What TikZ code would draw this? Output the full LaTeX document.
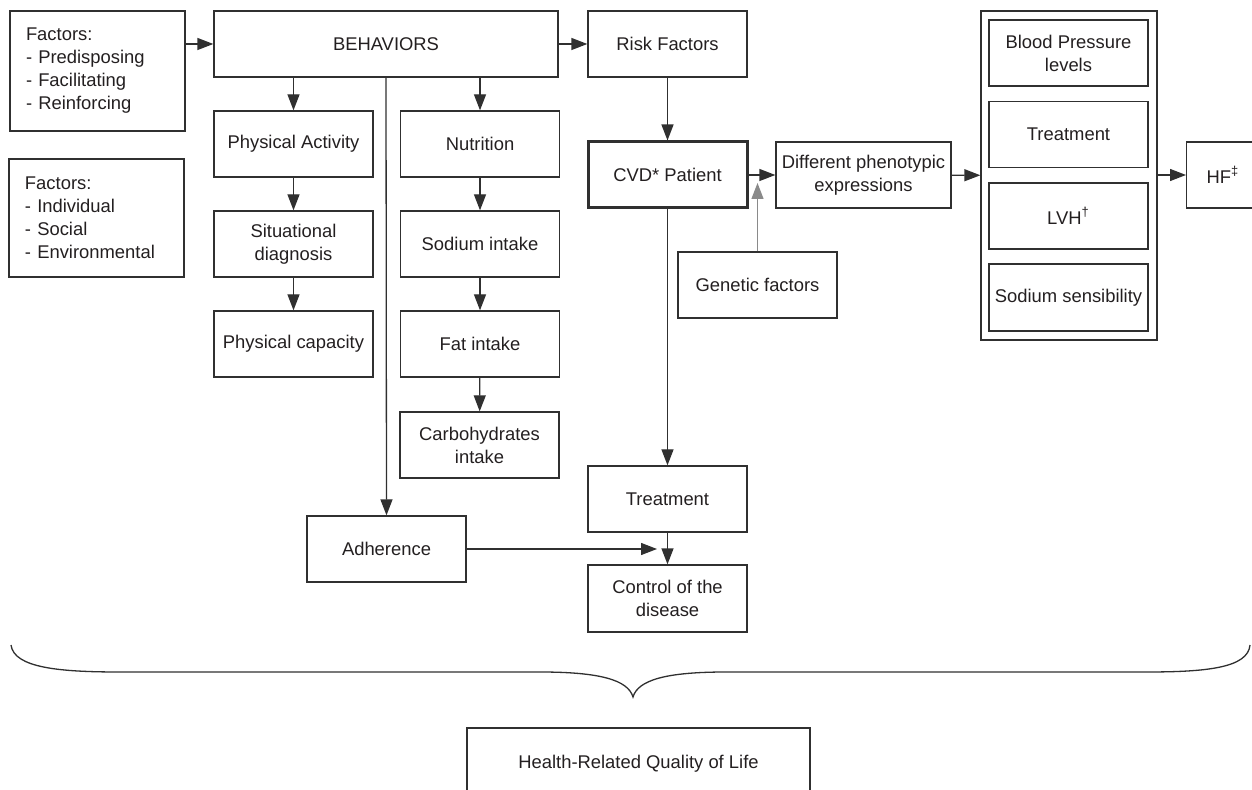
\documentclass[tikz,border=0pt]{standalone}
\usepackage{fontspec}
\setmainfont{Liberation Sans}
\usetikzlibrary{arrows.meta,positioning}
\definecolor{ln}{HTML}{303030}
\definecolor{tx}{HTML}{231F20}
\definecolor{gl}{HTML}{8A8A8A}
\tikzset{
  box/.style={draw=ln, line width=0.65pt, rectangle, align=center, inner sep=1pt,
    minimum width=79.5pt, minimum height=33pt, text=tx,
    font=\fontsize{9.2}{11.5}\selectfont},
  lbox/.style={draw=ln, line width=0.65pt, rectangle, align=left, inner xsep=8pt, inner ysep=1pt,
    text width=71.5pt, minimum height=#1, text=tx,
    font=\fontsize{9.2}{11.5}\selectfont},
  arr/.style={draw=ln, line width=0.65pt, -{Triangle[length=8pt,width=6pt]}},
  ln/.style={draw=ln, line width=0.65pt}
}
\begin{document}
\begin{tikzpicture}[x=0.5pt,y=-0.5pt]
\useasboundingbox (0,0) rectangle (1252,790);
\clip (0,0) rectangle (1252,790);
% left factor boxes
\node[lbox=60pt] (f1) at (97.5,71) {Factors:\\- Predisposing\\- Facilitating\\- Reinforcing};
\node[lbox=59pt] (f2) at (96.5,218) {Factors:\\- Individual\\- Social\\- Environmental};
% behaviors
\node[box, minimum width=172pt] (beh) at (386,44) {BEHAVIORS};
\node[box] (rf) at (667.5,44) {Risk Factors};
% physical activity column
\node[box] (pa) at (293.5,144) {Physical Activity};
\node[box] (sd) at (293.5,244) {Situational\\diagnosis};
\node[box] (pc) at (293.5,344) {Physical capacity};
% nutrition column
\node[box] (nu) at (480,144) {Nutrition};
\node[box] (si) at (480,244) {Sodium intake};
\node[box] (fi) at (480,344) {Fat intake};
\node[box] (ci) at (479.5,445) {Carbohydrates\\intake};
% CVD
\node[box, line width=1.5pt] (cvd) at (667.5,175) {CVD* Patient};
\node[box, minimum width=87.5pt] (ph) at (863.5,175) {Different phenotypic\\expressions};
\node[box] (gen) at (757.5,285) {Genetic factors};
% right group
\node[box, minimum width=88pt, minimum height=164.5pt] (outer) at (1069,175.5) {};
\node[box] (bp) at (1068.5,53) {Blood Pressure\\levels};
\node[box] (tr2) at (1068.5,134.5) {Treatment};
\node[box] (lvh) at (1068.5,216) {LVH\textsuperscript{†}};
\node[box, minimum height=33.5pt] (ss) at (1068.5,297.5) {Sodium sensibility};
\node[box, anchor=west, align=left, minimum width=0pt, text width=40pt, inner xsep=10pt] (hf) at (1186,175) {HF\textsuperscript{‡}};
% lower
\node[box] (tr) at (667.5,499) {Treatment};
\node[box] (ad) at (386.5,549) {Adherence};
\node[box, minimum height=33.5pt] (cd) at (667.5,598.5) {Control of the\\disease};
\node[box, minimum width=171.5pt, minimum height=36pt] (hq) at (638.5,764) {Health-Related Quality of Life};
% coordinates for free arrow ends
\coordinate (gt) at (757.5,183);
\coordinate (adt) at (657,549);
% connectors
\draw[arr] (f1.east |- beh.west) -- (beh.west);
\draw[arr] (beh.east) -- (rf.west);
\draw[arr] (pa.north |- beh.south) -- (pa.north);
\draw[arr] (nu.north |- beh.south) -- (nu.north);
\draw[arr] (pa) -- (sd);
\draw[arr] (sd) -- (pc);
\draw[arr] (nu) -- (si);
\draw[arr] (si) -- (fi);
\draw[arr] (fi) -- (ci);
\draw[arr] (beh.south) -- (ad.north);
\draw[arr] (rf) -- (cvd);
\draw[arr] (cvd) -- (tr);
\draw[arr] (tr) -- (cd);
\draw[arr] (cvd) -- (ph);
\draw[arr, draw=gl] (gen.north) -- (gt);
\draw[arr] (ph) -- (outer);
\draw[arr] (outer.east |- hf.west) -- (hf.west);
\draw[arr] (ad.east) -- (adt);
% brace
\draw[ln] (11,645) .. controls (14,668) and (60,672) .. (120,672) -- (540,672)
  .. controls (600,672) and (628,680) .. (633,697)
  .. controls (638,680) and (666,672) .. (726,672) -- (1146,672)
  .. controls (1206,672) and (1248,668) .. (1250,645);
\end{tikzpicture}
\end{document}
